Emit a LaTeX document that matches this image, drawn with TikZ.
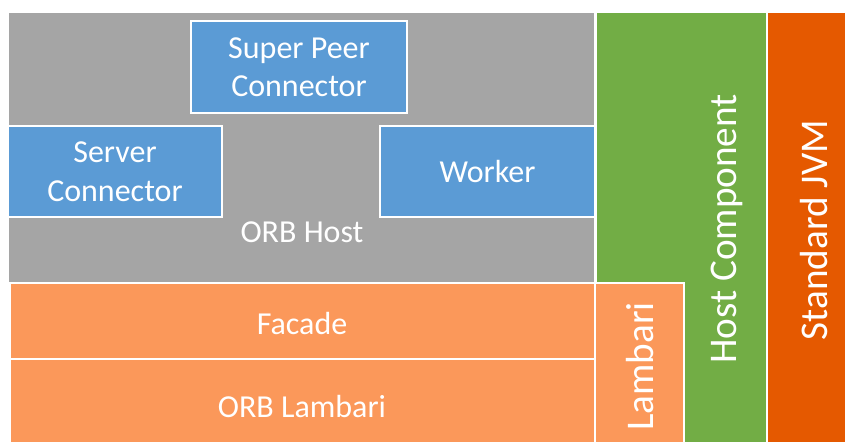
\documentclass[tikz,border=0pt]{standalone}
\usepackage{fontspec}
\setmainfont{Carlito}
\definecolor{hostgray}{HTML}{A5A5A5}
\definecolor{partblue}{HTML}{5B9BD5}
\definecolor{lightorange}{HTML}{FB985A}
\definecolor{hostgreen}{HTML}{72AD45}
\definecolor{jvmorange}{HTML}{E55900}
\tikzset{
  block/.style={draw=white, line width=1.5pt, inner sep=0pt, outer sep=0pt,
    text=white, align=center, font=\fontsize{32}{38.5}\selectfont},
  tag/.style={text=white, inner sep=0pt, font=\fontsize{32}{38.5}\selectfont},
  uptag/.style={text=white, inner sep=0pt, rotate=90, font=\fontsize{39.2}{46}\selectfont}
}
\begin{document}
\begin{tikzpicture}[x=1pt, y=-1pt]
\useasboundingbox (0,0) rectangle (846,443);
% right-hand columns
\node[block, fill=jvmorange, minimum width=79pt, minimum height=431pt] (jvm) at (806.5,227.5) {};
\node[block, fill=hostgreen, minimum width=171pt, minimum height=431pt] (host) at (681.5,227.5) {};
% ORB host area
\node[block, fill=hostgray, minimum width=587pt, minimum height=431pt] (orbhost) at (301.5,227.5) {};
\node[block, fill=partblue, minimum width=216pt, minimum height=92pt] (superpeer) at (299,67) {Super Peer\\Connector};
\node[block, fill=partblue, minimum width=214pt, minimum height=91pt] (server) at (115,171.5) {Server\\Connector};
\node[block, fill=partblue, minimum width=215pt, minimum height=91pt] (worker) at (487.5,171.5) {Worker};
\node[tag] (orbhostlabel) at (302,232) {ORB Host};
% Lambari layers
\node[block, fill=lightorange, minimum width=585pt, minimum height=76pt] (facade) at (302.5,321) {};
\node[block, fill=lightorange, minimum width=585pt, minimum height=84pt] (orblambari) at (302.5,401) {};
\node[block, fill=lightorange, minimum width=89pt, minimum height=160pt] (lambari) at (639.5,363) {};
\node[tag] (facadelabel) at (302,324) {Facade};
\node[tag] (orblambarilabel) at (302,407) {ORB Lambari};
% vertical labels
\node[uptag] (lambarilabel) at (640,366.5) {Lambari};
\node[uptag] (hostlabel) at (727,229) {Host Component};
\node[uptag] (jvmlabel) at (814,230) {Standard JVM};
\end{tikzpicture}
\end{document}
